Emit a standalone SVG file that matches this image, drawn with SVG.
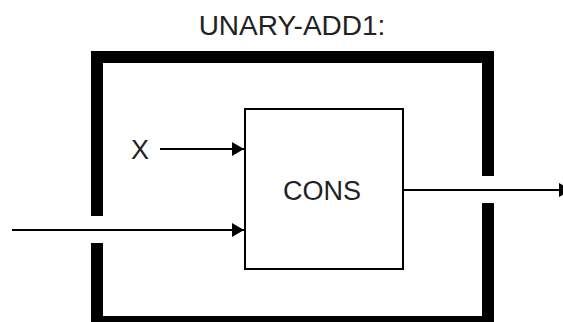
<svg xmlns="http://www.w3.org/2000/svg" width="563" height="322" viewBox="0 0 563 322">
<style>
.frame{fill:none;stroke:#000;stroke-width:12;stroke-linecap:butt;stroke-linejoin:miter}
.box{fill:#fff;stroke:#000;stroke-width:2}
.wire{fill:none;stroke:#000;stroke-width:2}
.lbl{font-family:"Liberation Sans",Arial,sans-serif;fill:#222;text-anchor:middle}
</style>
<defs>
<marker id="ah" markerWidth="12" markerHeight="14" refX="12" refY="7" orient="auto" markerUnits="userSpaceOnUse">
<polygon points="0,0 12,7 0,14" fill="#000"/>
</marker>
</defs>
<rect width="563" height="322" fill="#fff"/>
<text class="lbl" x="292" y="35" font-size="28">UNARY-ADD1:</text>
<g id="frame">
<path class="frame" d="M97,216 V57 H488 V176"/>
<path class="frame" d="M97,243 V322 H488 V203"/>
</g>
<g id="cons">
<rect class="box" x="245" y="109" width="158" height="160"/>
<text class="lbl" x="322" y="200" font-size="27">CONS</text>
</g>
<g id="x">
<text class="lbl" x="140" y="159" font-size="27">X</text>
</g>
<g id="connectors">
<line class="wire" x1="160" y1="149" x2="244" y2="149" marker-end="url(#ah)"/>
<line class="wire" x1="12" y1="230" x2="244" y2="230" marker-end="url(#ah)"/>
<line class="wire" x1="403" y1="190" x2="571" y2="190" marker-end="url(#ah)"/>
</g>
</svg>
